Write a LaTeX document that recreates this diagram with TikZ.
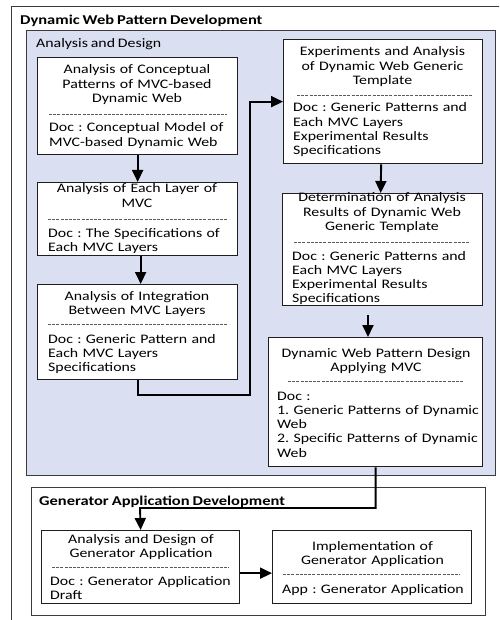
\documentclass[tikz,border=0pt]{standalone}
\usepackage{fontspec}
\setmainfont{Carlito}[FakeStretch=1.22, WordSpace=0.8]
\usetikzlibrary{arrows.meta}
\frenchspacing

\definecolor{panelblue}{RGB}{218,223,241}
\definecolor{boxline}{RGB}{30,30,30}
\definecolor{framegray}{RGB}{60,60,60}
\definecolor{sepgray}{RGB}{90,90,90}

\begin{document}
\begin{tikzpicture}[x=1pt,y=-1pt,
  txt/.style={font=\fontsize{13}{14.3}\selectfont\frenchspacing, inner sep=0pt, text=black},
  stage/.style={draw=boxline, line width=1.3pt, fill=white, anchor=north west, inner sep=0pt},
  head/.style={txt, text width=240pt, align=center, anchor=base},
  doc/.style={txt, text width=240pt, align=left, anchor=base west},
  sep/.style={draw=sepgray, line width=0.6pt, dash pattern=on 3pt off 1.2pt},
  flow/.style={draw=black, line width=1.9pt, -{Triangle[length=12pt,width=11pt]}},
  frame/.style={draw=framegray, line width=1pt},
  grouptitle/.style={font=\fontsize{13.5}{15}\selectfont\bfseries, inner sep=0pt, anchor=base west},
  grouplabel/.style={font=\fontsize{13}{14}\selectfont, inner sep=0pt, anchor=base west},
]
\useasboundingbox (0,0) rectangle (499,620);
\clip (0,0) rectangle (499,620);

% outer frame and group panels
\draw[frame] (11,7) rectangle (505,626);
\node[grouptitle] (tdyn) at (20,25) {Dynamic Web Pattern Development};
\draw[frame, fill=panelblue] (26,31) rectangle (495,475);
\node[grouplabel] (tana) at (36,48) {Analysis and Design};
\draw[frame] (31,487) rectangle (485,615);
\node[grouptitle] (tgen) at (39,505) {Generator Application Development};

% stage boxes
\node[stage, minimum width=200pt, minimum height=97pt]  (conc)   at (37,57)  {};
\node[stage, minimum width=200pt, minimum height=73pt]  (layer)  at (37,182) {};
\node[stage, minimum width=200pt, minimum height=95pt]  (integ)  at (37,284) {};
\node[stage, minimum width=199pt, minimum height=124pt] (exper)  at (283,39) {};
\node[stage, minimum width=200pt, minimum height=112pt] (result) at (282,193) {};
\node[stage, minimum width=214pt, minimum height=129pt] (design) at (268,337) {};
\node[stage, minimum width=198pt, minimum height=73pt]  (gapp)   at (41,530) {};
\node[stage, minimum width=199pt, minimum height=73pt]  (impl)   at (272,530) {};

% box texts
\node[head] (conc-h) at (137,74) {Analysis of Conceptual\\Patterns of MVC-based\\Dynamic Web};
\draw[sep] (49,114) -- (227,114);
\node[doc] (conc-d) at (49,132) {Doc : Conceptual Model of\\MVC-based Dynamic Web};

\node[head] (layer-h) at (137,193) {Analysis of Each Layer of\\MVC};
\draw[sep] (48,219) -- (227,219);
\node[doc] (layer-d) at (48,237) {Doc : The Specifications of\\Each MVC Layers};

\node[head] (integ-h) at (137,300) {Analysis of Integration\\Between MVC Layers};
\draw[sep] (48,324) -- (227,324);
\node[doc] (integ-d) at (48,343) {Doc : Generic Pattern and\\Each MVC Layers\\Specifications};

\node[head] (exper-h) at (382.5,56) {Experiments and Analysis\\of Dynamic Web Generic\\Template};
\draw[sep] (297,95) -- (472,95);
\node[doc] (exper-d) at (293,112) {Doc : Generic Patterns and\\Each MVC Layers\\Experimental Results\\Specifications};

\node[head] (result-h) at (382,202) {Determination of Analysis\\Results of Dynamic Web\\Generic Template};
\draw[sep] (294,242) -- (470,242);
\node[doc] (result-d) at (292,260) {Doc : Generic Patterns and\\Each MVC Layers\\Experimental Results\\Specifications};

\node[head] (design-h) at (376,357) {Dynamic Web Pattern Design\\Applying MVC};
\draw[sep] (288,381) -- (464,381);
\node[doc] (design-d) at (277,400) {Doc :\\1. Generic Patterns of Dynamic\\Web\\2. Specific Patterns of Dynamic\\Web};

\node[head] (gapp-h) at (141,543) {Analysis and Design of\\Generator Application};
\draw[sep] (52,567) -- (229,567);
\node[doc] (gapp-d) at (50,585) {Doc : Generator Application\\Draft};

\node[head] (impl-h) at (372.5,550) {Implementation of\\Generator Application};
\draw[sep] (283,574) -- (460,574);
\node[doc] (impl-d) at (282,593) {App : Generator Application};

% connectors
\coordinate (bend) at (250,395);
\coordinate (gap)  at (368,315);
\coordinate (drop) at (140,508);

\draw[flow] (conc.south) -- (layer.north);
\draw[flow] ([xshift=3pt]layer.south) -- ([xshift=3pt]integ.north);
\draw[flow] (integ.south) |- (bend) |- (exper.west);
\draw[flow] ([xshift=-2pt]exper.south) -- ([xshift=-2pt]result.north);
\draw[flow] (gap) -- (gap |- design.north);
\draw[flow] (design.south) |- (drop) -- (gapp.north);
\draw[flow] ([yshift=-6pt]gapp.east) -- ([yshift=-6pt]impl.west);
\end{tikzpicture}
\end{document}
